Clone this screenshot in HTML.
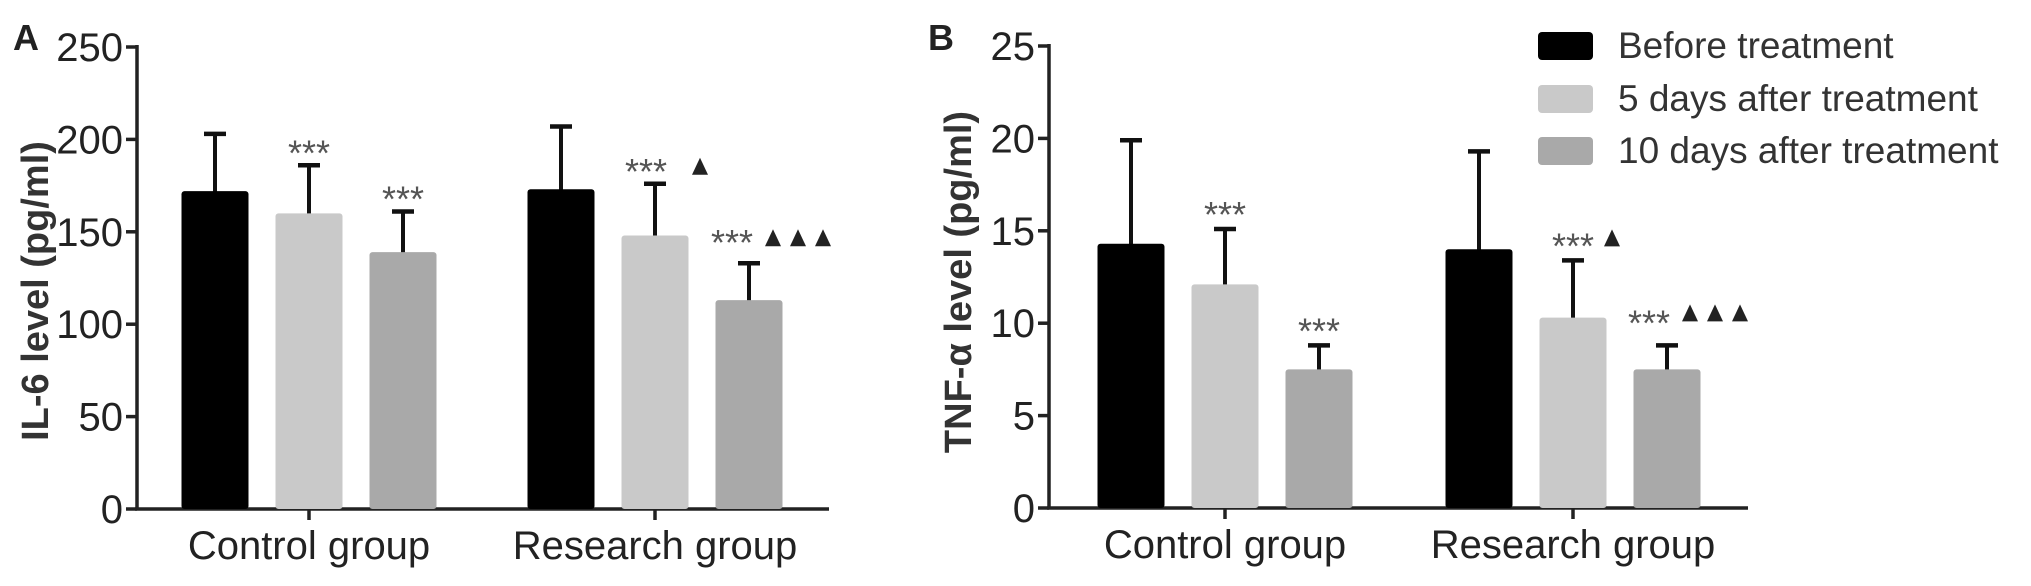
<!DOCTYPE html>
<html><head><meta charset="utf-8">
<style>
html,body{margin:0;padding:0;background:#fff;}
svg{display:block;font-family:"Liberation Sans",Arial,sans-serif;}
</style></head>
<body>
<svg id="chart" width="2031" height="586" viewBox="0 0 2031 586" xmlns="http://www.w3.org/2000/svg">
<g>
 <g><rect x="1538" y="32" width="55" height="28" rx="4" fill="#000"/><text x="1618" y="58" font-size="37" fill="#333">Before treatment</text></g>
 <g><rect x="1538" y="85" width="55" height="28" rx="4" fill="#c9c9c9"/><text x="1618" y="111" font-size="37" fill="#333">5  days  after treatment</text></g>
 <g><rect x="1538" y="137" width="55" height="28" rx="4" fill="#a9a9a9"/><text x="1618" y="163" font-size="37" fill="#333">10  days  after treatment</text></g>
</g>
</svg>
<script>
const categories = ["Control group", "Research group"];
const seriesNames = ["Before treatment", "5 days after treatment", "10 days after treatment"];
const il6Means = [[172, 160, 139], [173, 148, 113]];
const il6Errors = [[203, 186, 161], [207, 176, 133]];
const il6Ticks = [0, 50, 100, 150, 200, 250];
const il6Stars = [["", "***", "***"], ["", "***", "***"]];
const il6Tri = [[0, 0, 0], [0, 1, 3]];
const tnfMeans = [[14.3, 12.1, 7.5], [14.0, 10.3, 7.5]];
const tnfErrors = [[19.9, 15.1, 8.8], [19.3, 13.4, 8.8]];
const tnfTicks = [0, 5, 10, 15, 20, 25];
const tnfStars = [["", "***", "***"], ["", "***", "***"]];
const tnfTri = [[0, 0, 0], [0, 1, 3]];

const NS = "http://www.w3.org/2000/svg";
const svg = document.getElementById("chart");
const colors = ["#000", "#c9c9c9", "#a9a9a9"];
function mk(tag, attrs, parent){const e=document.createElementNS(NS,tag);for(const k in attrs)e.setAttribute(k,attrs[k]);(parent||svg).appendChild(e);return e;}

function panel(cfg){
  const g = mk("g",{});
  
  
  const yS = v => cfg.y0 - (v - cfg.min)/(cfg.max - cfg.min)*(cfg.y0 - cfg.yTop);
  const ax = mk("line",{x1:cfg.ax,y1:yS(cfg.max)-2,x2:cfg.ax,y2:cfg.y0,stroke:"#222","stroke-width":3.5},g);
  
  
  cfg.ticks.forEach(t=>{
    const y=yS(t);
    mk("line",{x1:cfg.ax-11,y1:y,x2:cfg.ax,y2:y,stroke:"#222","stroke-width":3.5},g);
    const tx=mk("text",{x:cfg.ax-14,y:y+14,"font-size":40,"text-anchor":"end",fill:"#222"},g);
    tx.textContent=t;
    
    
  });
  const xl=mk("line",{x1:cfg.ax-2,y1:cfg.y0,x2:cfg.xEnd,y2:cfg.y0,stroke:"#222","stroke-width":3.5},g);
  
  
  const yt=mk("text",{x:0,y:0,"font-size":38,"font-weight":"bold","text-anchor":"middle",fill:"#333",transform:`translate(${cfg.ytX},${cfg.ytY}) rotate(-90)`},g);
  yt.textContent=cfg.yTitle;
  
  
  const pl=mk("text",{x:cfg.plX,y:50,"font-size":36,"font-weight":"bold",fill:"#222"},g);
  pl.textContent=cfg.letter;
  
  
  categories.forEach((c,ci)=>{
    const gc=cfg.groupCenters[ci];
    mk("line",{x1:gc,y1:cfg.y0,x2:gc,y2:cfg.y0+11,stroke:"#222","stroke-width":3.5},g);
    const ct=mk("text",{x:gc,y:cfg.y0+50,"font-size":40,"text-anchor":"middle",fill:"#222"},g);
    ct.textContent=c;
    
    
    seriesNames.forEach((s,si)=>{
      const cx=gc+(si-1)*cfg.step;
      const x=cx-cfg.bw/2;
      const top=yS(cfg.means[ci][si]);
      const eTop=yS(cfg.errs[ci][si]);
      const el=mk("line",{x1:cx,y1:eTop,x2:cx,y2:top+2,stroke:"#111","stroke-width":4},g);
      
      
      const cap=mk("line",{x1:cx-11,y1:eTop,x2:cx+11,y2:eTop,stroke:"#111","stroke-width":4.5},g);
      
      
      const r=mk("rect",{x:x,y:top,width:cfg.bw,height:cfg.y0-top,rx:3,fill:colors[si]},g);
      
      
      const st=cfg.stars[ci][si];
      const nt=cfg.tri[ci][si];
      if(st){
        const sy=eTop-(nt===3?cfg.starGap3:cfg.starGap);
        const sx= nt? cx - (nt===1?cfg.s1Off:cfg.s3Off) : cx;
        const t=mk("text",{x:sx,y:sy+4,"font-size":36,"text-anchor":"middle",fill:"#555"},g);
        t.textContent=st;
        
        
        for(let k=0;k<nt;k++){
          const tx0 = nt===1 ? cx+cfg.t1Off : cx+cfg.t3Off+k*25;
          const ty = sy-4 - (nt===1?cfg.t1Dy:cfg.t3Dy);
          const tri=mk("polygon",{points:`${tx0-8},${ty} ${tx0+8},${ty} ${tx0},${ty-17}`,fill:"#222"},g);
          
          
        }
      }
    });
  });
}

panel({name:"panel-a-il6",letter:"A",plX:13,ax:137,xEnd:829,y0:509,yTop:47,min:0,max:250,ticks:il6Ticks,
  means:il6Means,errs:il6Errors,stars:il6Stars,tri:il6Tri,groupCenters:[309,655],step:94,bw:67,
  yTitle:"IL-6 level (pg/ml)",ytX:48,ytY:291,starGap:4,starGap3:12,s1Off:9,s3Off:17,t1Off:45,t1Dy:1,t3Off:24,t3Dy:1});
panel({name:"panel-b-tnf",letter:"B",plX:928,ax:1049,xEnd:1748,y0:508,yTop:46,min:0,max:25,ticks:tnfTicks,
  means:tnfMeans,errs:tnfErrors,stars:tnfStars,tri:tnfTri,groupCenters:[1225,1573],step:94,bw:67,
  yTitle:"TNF-α level (pg/ml)",ytX:971,ytY:282,starGap:6,starGap3:14,s1Off:0,s3Off:18,t1Off:39,t1Dy:4,t3Off:23,t3Dy:6});
</script>
</body></html>
